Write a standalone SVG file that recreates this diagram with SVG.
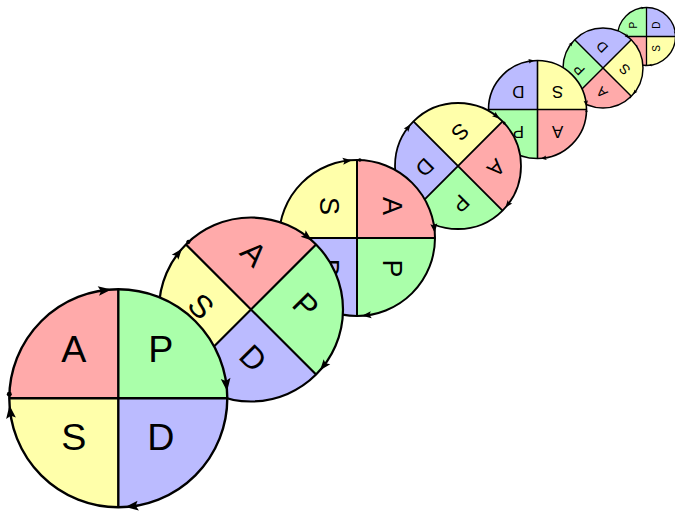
<svg xmlns="http://www.w3.org/2000/svg" xmlns:xlink="http://www.w3.org/1999/xlink" width="675" height="515" viewBox="0 0 675 515">
<style>
.qa{fill:#ffaaaa}
.qp{fill:#aaffaa}
.qd{fill:#bbbbff}
.qs{fill:#ffffaa}
.ln{fill:none;stroke:#000;stroke-linecap:butt}
.ar{fill:#000}
.t{font-family:"Liberation Sans",Arial,Helvetica,sans-serif;font-size:38px;text-anchor:middle;fill:#000}
</style>
<defs>
<path id="ah" d="M-7,-109.8 L-20.8,-113.2 L-17.5,-108.4 L-19.4,-103.4 Z"/>
</defs>
<rect width="675" height="515" fill="#fff"/>

<g id="cycle7" transform="translate(646.5,36.5) rotate(270) scale(0.2636)">
<path class="qa" d="M0,0 H-110 A110,110 0 0 1 0,-110 Z"/>
<path class="qp" d="M0,0 V-110 A110,110 0 0 1 110,0 Z"/>
<path class="qd" d="M0,0 H110 A110,110 0 0 1 0,110 Z"/>
<path class="qs" d="M0,0 V110 A110,110 0 0 1 -110,0 Z"/>
<path class="ln" style="stroke-width:4.93" d="M-110,0 H110 M0,-110 V110"/>
<circle class="ln" style="stroke-width:4.93" r="110"/>
<g class="ar"><use xlink:href="#ah"/><use xlink:href="#ah" transform="rotate(90)"/><use xlink:href="#ah" transform="rotate(180)"/><use xlink:href="#ah" transform="rotate(270)"/><circle cx="-110" cy="-4" r="2.5"/></g>
<text class="t" x="-45" y="-36.5">A</text><text class="t" x="43" y="-36.5">P</text><text class="t" x="-45" y="52.5">S</text><text class="t" x="43" y="52.5">D</text>
</g>

<g id="cycle6" transform="translate(603,68) rotate(225) scale(0.3636)">
<path class="qa" d="M0,0 H-110 A110,110 0 0 1 0,-110 Z"/>
<path class="qp" d="M0,0 V-110 A110,110 0 0 1 110,0 Z"/>
<path class="qd" d="M0,0 H110 A110,110 0 0 1 0,110 Z"/>
<path class="qs" d="M0,0 V110 A110,110 0 0 1 -110,0 Z"/>
<path class="ln" style="stroke-width:3.98" d="M-110,0 H110 M0,-110 V110"/>
<circle class="ln" style="stroke-width:3.98" r="110"/>
<g class="ar"><use xlink:href="#ah"/><use xlink:href="#ah" transform="rotate(90)"/><use xlink:href="#ah" transform="rotate(180)"/><use xlink:href="#ah" transform="rotate(270)"/><circle cx="-110" cy="-4" r="2.5"/></g>
<text class="t" x="-45" y="-36.5">A</text><text class="t" x="43" y="-36.5">P</text><text class="t" x="-45" y="52.5">S</text><text class="t" x="43" y="52.5">D</text>
</g>

<g id="cycle5" transform="translate(537.5,109.5) rotate(180) scale(0.4455)">
<path class="qa" d="M0,0 H-110 A110,110 0 0 1 0,-110 Z"/>
<path class="qp" d="M0,0 V-110 A110,110 0 0 1 110,0 Z"/>
<path class="qd" d="M0,0 H110 A110,110 0 0 1 0,110 Z"/>
<path class="qs" d="M0,0 V110 A110,110 0 0 1 -110,0 Z"/>
<path class="ln" style="stroke-width:3.6" d="M-110,0 H110 M0,-110 V110"/>
<circle class="ln" style="stroke-width:3.6" r="110"/>
<g class="ar"><use xlink:href="#ah"/><use xlink:href="#ah" transform="rotate(90)"/><use xlink:href="#ah" transform="rotate(180)"/><use xlink:href="#ah" transform="rotate(270)"/><circle cx="-110" cy="-4" r="2.5"/></g>
<text class="t" x="-45" y="-36.5">A</text><text class="t" x="43" y="-36.5">P</text><text class="t" x="-45" y="52.5">S</text><text class="t" x="43" y="52.5">D</text>
</g>

<g id="cycle4" transform="translate(458,166) rotate(135) scale(0.5727)">
<path class="qa" d="M0,0 H-110 A110,110 0 0 1 0,-110 Z"/>
<path class="qp" d="M0,0 V-110 A110,110 0 0 1 110,0 Z"/>
<path class="qd" d="M0,0 H110 A110,110 0 0 1 0,110 Z"/>
<path class="qs" d="M0,0 V110 A110,110 0 0 1 -110,0 Z"/>
<path class="ln" style="stroke-width:3.14" d="M-110,0 H110 M0,-110 V110"/>
<circle class="ln" style="stroke-width:3.14" r="110"/>
<g class="ar"><use xlink:href="#ah"/><use xlink:href="#ah" transform="rotate(90)"/><use xlink:href="#ah" transform="rotate(180)"/><use xlink:href="#ah" transform="rotate(270)"/><circle cx="-110" cy="-4" r="2.5"/></g>
<text class="t" x="-45" y="-36.5">A</text><text class="t" x="43" y="-36.5">P</text><text class="t" x="-45" y="52.5">S</text><text class="t" x="43" y="52.5">D</text>
</g>

<g id="cycle3" transform="translate(357,238) rotate(90) scale(0.7091)">
<path class="qa" d="M0,0 H-110 A110,110 0 0 1 0,-110 Z"/>
<path class="qp" d="M0,0 V-110 A110,110 0 0 1 110,0 Z"/>
<path class="qd" d="M0,0 H110 A110,110 0 0 1 0,110 Z"/>
<path class="qs" d="M0,0 V110 A110,110 0 0 1 -110,0 Z"/>
<path class="ln" style="stroke-width:2.82" d="M-110,0 H110 M0,-110 V110"/>
<circle class="ln" style="stroke-width:2.82" r="110"/>
<g class="ar"><use xlink:href="#ah"/><use xlink:href="#ah" transform="rotate(90)"/><use xlink:href="#ah" transform="rotate(180)"/><use xlink:href="#ah" transform="rotate(270)"/><circle cx="-110" cy="-4" r="2.5"/></g>
<text class="t" x="-45" y="-36.5">A</text><text class="t" x="43" y="-36.5">P</text><text class="t" x="-45" y="52.5">S</text><text class="t" x="43" y="52.5">D</text>
</g>

<g id="cycle2" transform="translate(251,309.5) rotate(45) scale(0.8364)">
<path class="qa" d="M0,0 H-110 A110,110 0 0 1 0,-110 Z"/>
<path class="qp" d="M0,0 V-110 A110,110 0 0 1 110,0 Z"/>
<path class="qd" d="M0,0 H110 A110,110 0 0 1 0,110 Z"/>
<path class="qs" d="M0,0 V110 A110,110 0 0 1 -110,0 Z"/>
<path class="ln" style="stroke-width:2.63" d="M-110,0 H110 M0,-110 V110"/>
<circle class="ln" style="stroke-width:2.63" r="110"/>
<g class="ar"><use xlink:href="#ah"/><use xlink:href="#ah" transform="rotate(90)"/><use xlink:href="#ah" transform="rotate(180)"/><use xlink:href="#ah" transform="rotate(270)"/><circle cx="-110" cy="-4" r="2.5"/></g>
<text class="t" x="-45" y="-36.5">A</text><text class="t" x="43" y="-36.5">P</text><text class="t" x="-45" y="52.5">S</text><text class="t" x="43" y="52.5">D</text>
</g>

<g id="cycle1" transform="translate(118.3,398.3) scale(0.9909)">
<path class="qa" d="M0,0 H-110 A110,110 0 0 1 0,-110 Z"/>
<path class="qp" d="M0,0 V-110 A110,110 0 0 1 110,0 Z"/>
<path class="qd" d="M0,0 H110 A110,110 0 0 1 0,110 Z"/>
<path class="qs" d="M0,0 V110 A110,110 0 0 1 -110,0 Z"/>
<path class="ln" style="stroke-width:2.42" d="M-110,0 H110 M0,-110 V110"/>
<circle class="ln" style="stroke-width:2.42" r="110"/>
<g class="ar"><use xlink:href="#ah"/><use xlink:href="#ah" transform="rotate(90)"/><use xlink:href="#ah" transform="rotate(180)"/><use xlink:href="#ah" transform="rotate(270)"/><circle cx="-110" cy="-4" r="2.5"/></g>
<text class="t" x="-45" y="-36.5">A</text><text class="t" x="43" y="-36.5">P</text><text class="t" x="-45" y="52.5">S</text><text class="t" x="43" y="52.5">D</text>
</g>
</svg>
